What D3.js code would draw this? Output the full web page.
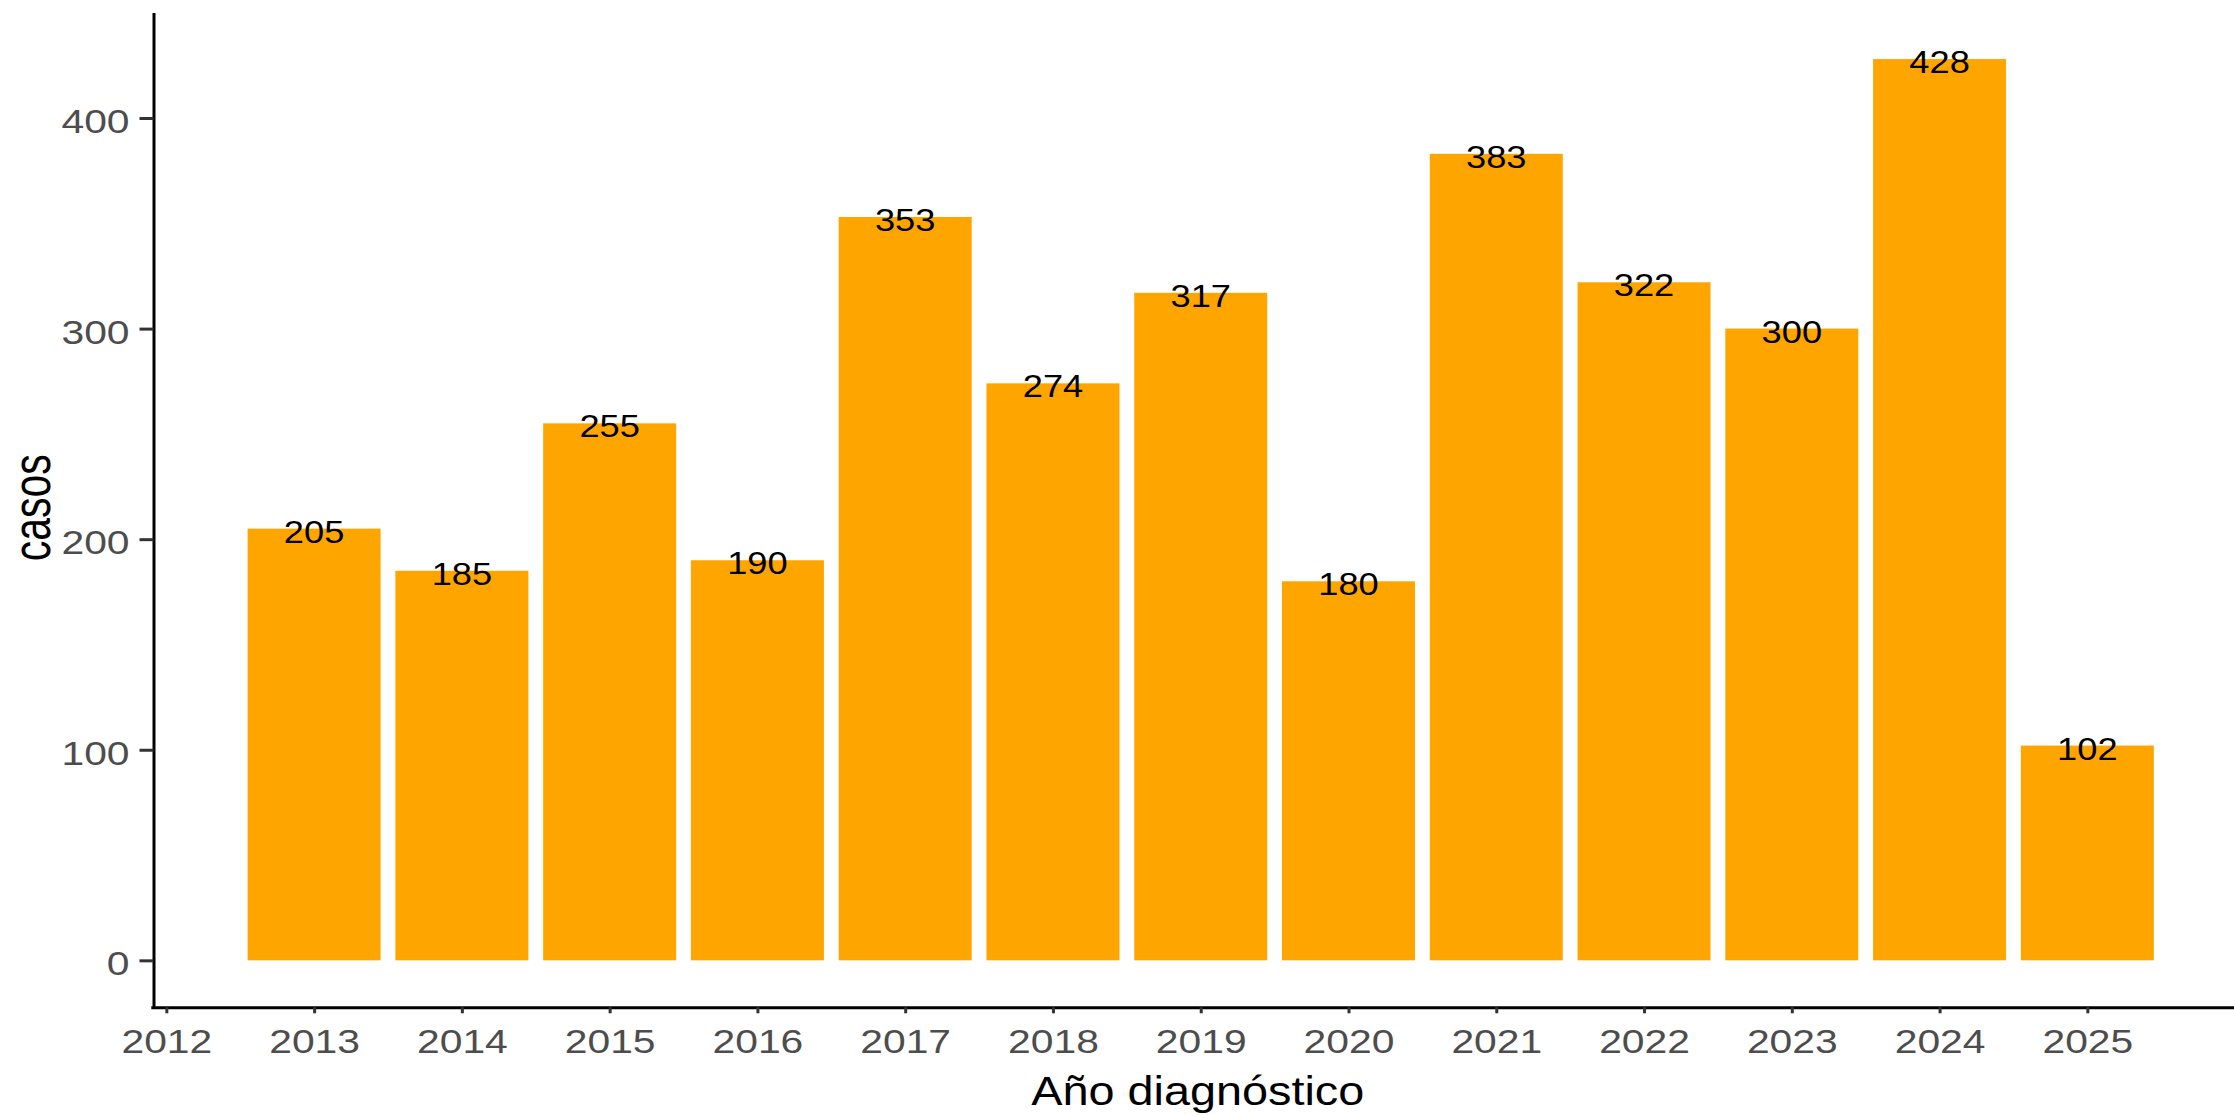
<!DOCTYPE html>
<html>
<head>
<meta charset="utf-8">
<script src="https://cdn.jsdelivr.net/npm/d3@7"></script>
<style>
  html, body { margin: 0; padding: 0; background: #fff; }
  text { font-family: "Liberation Sans", Arial, sans-serif; }
</style>
</head>
<body>
<svg id="chart"></svg>
<script>
const years = [2013, 2014, 2015, 2016, 2017, 2018, 2019, 2020, 2021, 2022, 2023, 2024, 2025];
const casos = [205, 185, 255, 190, 353, 274, 317, 180, 383, 322, 300, 428, 102];
const xTicks = [2012, 2013, 2014, 2015, 2016, 2017, 2018, 2019, 2020, 2021, 2022, 2023, 2024, 2025];
const yTicks = [0, 100, 200, 300, 400];
const xTitle = "Año diagnóstico";
const yTitle = "casos";

const width = 2234;
const height = 1115;
const barWidth = 0.9;
const stretch = 1.2; // glyphs in the picture are wider than tall

const svg = d3.select("#chart").attr("width", width).attr("height", height);

// continuous x with 5% expansion, like ggplot
const xMin = d3.min(years) - barWidth / 2;
const xMax = d3.max(years) + barWidth / 2;
const xPad = (xMax - xMin) * 0.05;
const x = d3.scaleLinear()
  .domain([xMin - xPad, xMax + xPad])
  .range([152.3, 152.3 + (xMax - xMin + 2 * xPad) * 147.77]);

const yMax = d3.max(casos);
const yPad = yMax * 0.05;
const y = d3.scaleLinear().domain([-yPad, yMax + yPad]).range([1005.4, 14]);

// bars
svg.append("g")
  .selectAll("rect")
  .data(years)
  .join("rect")
  .attr("x", (d) => x(d - barWidth / 2))
  .attr("width", (d) => x(d + barWidth / 2) - x(d - barWidth / 2))
  .attr("y", (d, i) => y(casos[i]))
  .attr("height", (d, i) => y(0) - y(casos[i]))
  .attr("fill", "#FFA500");

// value labels
svg.append("g")
  .selectAll("text")
  .data(years)
  .join("text")
  .attr("transform", (d, i) => `translate(${x(d)},${y(casos[i]) + 14}) scale(1.17,1)`)
  .attr("text-anchor", "middle")
  .attr("font-size", 31)
  .attr("fill", "#000")
  .text((d, i) => casos[i]);

function styleTicks(g, s) {
  g.selectAll(".tick line").attr("stroke", "#333").attr("stroke-width", 3);
  g.selectAll(".tick text")
    .attr("font-size", 34)
    .attr("fill", "#4D4D4D")
    .attr("dy", null)
    .each(function () {
      const t = d3.select(this);
      t.attr("x", +t.attr("x") / s).attr("transform", `scale(${s},1)`);
    });
  g.select(".domain").attr("stroke", "#000").attr("stroke-width", 3)
    .attr("stroke-linecap", "square");
}

// y axis
const yAxis = svg.append("g")
  .attr("transform", "translate(153.5,0)")
  .call(d3.axisLeft(y).tickValues(yTicks).tickSize(14).tickSizeOuter(0).tickPadding(10));
yAxis.selectAll(".tick text").attr("y", 14.5);
styleTicks(yAxis, stretch);

// x axis
const xAxis = svg.append("g")
  .attr("transform", "translate(0,1007.3)")
  .call(d3.axisBottom(x).tickValues(xTicks).tickFormat(d3.format("d")).tickSize(6).tickSizeOuter(0));
xAxis.selectAll(".tick text").attr("y", 46);
styleTicks(xAxis, stretch);

// titles
const [r0, r1] = x.range();
svg.append("text")
  .attr("transform", `translate(${(r0 + r1) / 2 - 3},1105) scale(1.17,1)`)
  .attr("text-anchor", "middle")
  .attr("font-size", 40)
  .attr("fill", "#000")
  .text(xTitle);

const [y0, y1] = y.range();
svg.append("text")
  .attr("transform", `translate(50,${(y0 + y1) / 2 - 2}) scale(1.3,1) rotate(-90)`)
  .attr("text-anchor", "middle")
  .attr("font-size", 41)
  .attr("fill", "#000")
  .text(yTitle);
</script>
</body>
</html>
